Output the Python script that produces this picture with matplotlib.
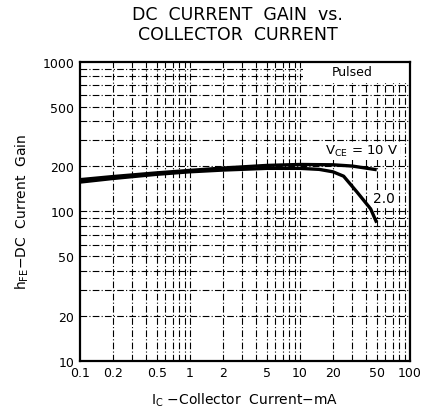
import matplotlib
matplotlib.use('Agg')
from matplotlib import pyplot as plt
from matplotlib.patches import Rectangle

# collector current (mA) and DC current gain
ic_10v = [0.1, 0.2, 0.5, 1, 2, 5, 10, 20, 30, 50]
hfe_10v = [163, 171, 181, 188, 195, 203, 206, 205, 201, 190]

ic_2v = [0.1, 0.2, 0.5, 1, 2, 5, 10, 15, 20, 25, 33, 44, 50]
hfe_2v = [157, 166, 177, 184, 189, 194, 194, 191, 184, 172, 135, 104, 84]

x_ticks = [0.1, 0.2, 0.5, 1, 2, 5, 10, 20, 50, 100]
x_labels = ['0.1', '0.2', '0.5', '1', '2', '5', '10', '20', '50', '100']
y_ticks = [10, 20, 50, 100, 200, 500, 1000]
y_labels = ['10', '20', '50', '100', '200', '500', '1000']

x_grid = [0.2, 0.3, 0.4, 0.5, 0.6, 0.7, 0.8, 0.9, 1, 2, 3, 4, 5, 6, 7, 8, 9,
          10, 20, 30, 40, 50, 60, 70, 80, 90]
y_grid = [20, 30, 40, 50, 60, 70, 80, 90, 100, 200, 300, 400, 500,
          600, 700, 800, 900]

plt.rcParams['mathtext.default'] = 'regular'

fig = plt.figure(figsize=(4.36, 4.14), dpi=100)
ax = fig.add_axes([0.183, 0.126, 0.757, 0.722])
ax.set_xscale('log')
ax.set_yscale('log')
ax.set_xlim(0.1, 100)
ax.set_ylim(10, 1000)

for xv in x_grid:
    ax.axvline(xv, color='black', lw=0.8, ls=(0, (6, 2, 1, 2)), zorder=1)
for yv in y_grid:
    ax.axhline(yv, color='black', lw=0.8, ls=(0, (6, 2, 1, 2)), zorder=1)

# blank box for the "Pulsed" note
ax.add_patch(Rectangle((10.6, 720), 100 - 10.6, 1000 - 720, facecolor='white',
                       edgecolor='none', zorder=2))
ax.text(30, 860, 'Pulsed', fontsize=9, ha='center', va='center', zorder=3)

ax.plot(ic_10v, hfe_10v, color='black', lw=2.4, solid_capstyle='butt', zorder=4)
ax.plot(ic_2v, hfe_2v, color='black', lw=2.4, solid_capstyle='butt', zorder=4)

white = dict(facecolor='white', edgecolor='none', pad=1)
ax.text(17, 255, r'V$_{CE}$ = 10 V', fontsize=9.5, ha='left', va='center',
        zorder=5, bbox=white)
ax.text(58, 122, '2.0', fontsize=10, ha='center', va='center', zorder=5,
        bbox=white)

ax.set_xticks(x_ticks)
ax.set_xticklabels(x_labels)
ax.set_yticks(y_ticks)
ax.set_yticklabels(y_labels)
ax.minorticks_off()
ax.tick_params(length=0, labelsize=9, pad=4)

for s in ax.spines.values():
    s.set_linewidth(1.6)

ax.set_xlabel(r'I$_C$ $-$Collector  Current$-$mA', fontsize=10, labelpad=8)
ax.set_ylabel(r'h$_{FE}$$-$DC  Current  Gain', fontsize=10, labelpad=8)

fig.text(0.545, 0.963, 'DC  CURRENT  GAIN  vs.', fontsize=12.5, ha='center', va='center')
fig.text(0.545, 0.915, 'COLLECTOR  CURRENT', fontsize=12.5, ha='center', va='center')

fig.savefig('out.png', dpi=100)
